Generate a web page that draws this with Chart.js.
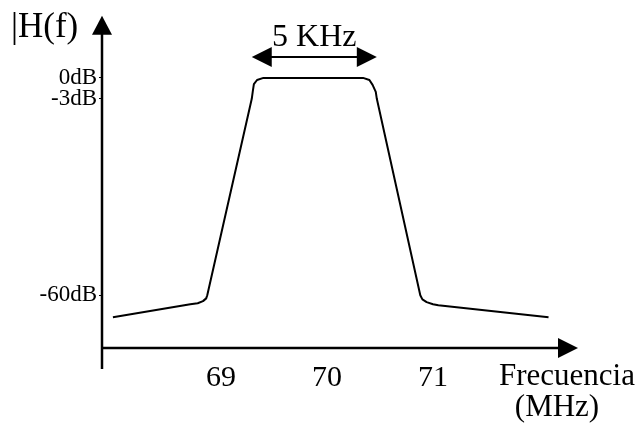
<!DOCTYPE html>
<html>
<head>
<meta charset="utf-8">
<script src="https://cdn.jsdelivr.net/npm/chart.js@4/dist/chart.umd.min.js"></script>
<style>
  html, body { margin: 0; padding: 0; background: #fff; }
  #wrap { width: 641px; height: 430px; position: relative; }
</style>
</head>
<body>
<div id="wrap"><canvas id="filterChart"></canvas></div>
<script>
// frequency response points (MHz, dB)
const freqMHz = [67.98, 68.71, 68.78, 68.83, 68.86, 68.87, 69.29, 69.30, 69.31, 69.34, 69.40,
                 70.34, 70.40, 70.43, 70.46, 70.47, 70.88, 70.90, 70.94, 71.00, 71.05, 72.09];
const gainDb  = [-66.4, -62.6, -62.3, -61.7, -60.9, -60.0, -3.0, -1.9, -0.9, -0.3, 0.0,
                 0.0, -0.3, -1.0, -2.0, -3.0, -60.0, -61.2, -62.0, -62.6, -62.9, -66.4];
const xTicks = [69, 70, 71];
const yTicks = [0, -3, -60];
const bandwidthLabel = '5 KHz';

const SERIF = "'Liberation Serif', 'Times New Roman', serif";

// y axis of the sketch is not to scale: the -3..-60 dB stretch is compressed
class SchematicDbScale extends Chart.LinearScale {
    static id = 'schematicDb';
    static defaults = {};
    warp(v) {
        return v >= -3 ? v : -3 + (v + 3) * 0.494;
    }
    getPixelForValue(v) {
        const lo = this.warp(this.min), hi = this.warp(this.max);
        return this.getPixelForDecimal((this.warp(v) - lo) / (hi - lo));
    }
    getValueForPixel(p) {
        const lo = this.warp(this.min), hi = this.warp(this.max);
        const w = lo + this.getDecimalForPixel(p) * (hi - lo);
        return w >= -3 ? w : -3 + (w + 3) / 0.494;
    }
}
Chart.register(SchematicDbScale);

const sketchAxes = {
    id: 'sketchAxes',
    afterDraw(chart) {
        const ctx = chart.ctx;
        const a = chart.chartArea;
        const xs = chart.scales.x, ys = chart.scales.y;
        ctx.save();
        ctx.strokeStyle = '#000';
        ctx.fillStyle = '#000';
        ctx.lineWidth = 2.5;

        // vertical axis with arrow
        ctx.beginPath();
        ctx.moveTo(a.left, a.bottom + 21);
        ctx.lineTo(a.left, a.top + 18);
        ctx.stroke();
        ctx.beginPath();
        ctx.moveTo(a.left, a.top);
        ctx.lineTo(a.left - 10, a.top + 19);
        ctx.lineTo(a.left + 10, a.top + 19);
        ctx.closePath();
        ctx.fill();

        // horizontal axis with arrow
        ctx.beginPath();
        ctx.moveTo(a.left, a.bottom);
        ctx.lineTo(a.right - 18, a.bottom);
        ctx.stroke();
        ctx.beginPath();
        ctx.moveTo(a.right, a.bottom);
        ctx.lineTo(a.right - 20, a.bottom - 10);
        ctx.lineTo(a.right - 20, a.bottom + 10);
        ctx.closePath();
        ctx.fill();

        // -3 dB bandwidth arrow
        const i1 = gainDb.indexOf(-3), i2 = gainDb.lastIndexOf(-3);
        const x1 = xs.getPixelForValue(freqMHz[i1]);
        const x2 = xs.getPixelForValue(freqMHz[i2]);
        const yb = ys.getPixelForValue(3);
        ctx.lineWidth = 2;
        ctx.beginPath();
        ctx.moveTo(x1 + 18, yb);
        ctx.lineTo(x2 - 18, yb);
        ctx.stroke();
        ctx.beginPath();
        ctx.moveTo(x1, yb);
        ctx.lineTo(x1 + 20, yb - 10);
        ctx.lineTo(x1 + 20, yb + 10);
        ctx.closePath();
        ctx.fill();
        ctx.beginPath();
        ctx.moveTo(x2, yb);
        ctx.lineTo(x2 - 20, yb - 10);
        ctx.lineTo(x2 - 20, yb + 10);
        ctx.closePath();
        ctx.fill();

        // texts
        ctx.textBaseline = 'alphabetic';
        ctx.font = '32px ' + SERIF;
        ctx.textAlign = 'center';
        ctx.fillText(bandwidthLabel, (x1 + x2) / 2, yb - 11);
        ctx.font = '35px ' + SERIF;
        ctx.textAlign = 'left';
        ctx.fillText('|H(f)', 11, 37);
        ctx.font = '31px ' + SERIF;
        ctx.textAlign = 'center';
        ctx.fillText('Frecuencia', 567, 385);
        ctx.fillText('(MHz)', 557, 416);
        ctx.restore();
    }
};

new Chart(document.getElementById('filterChart').getContext('2d'), {
    type: 'line',
    data: {
        labels: freqMHz,
        datasets: [{
            data: freqMHz.map((f, i) => ({ x: f, y: gainDb[i] })),
            borderColor: '#000',
            borderWidth: 2,
            borderJoinStyle: 'round',
            pointRadius: 0,
            tension: 0,
            fill: false
        }]
    },
    options: {
        responsive: true,
        maintainAspectRatio: false,
        animation: false,
        events: [],
        layout: { padding: { top: 15, right: 63, left: 0, bottom: 0 } },
        plugins: {
            legend: { display: false },
            tooltip: { enabled: false }
        },
        scales: {
            x: {
                type: 'linear',
                min: 67.877,
                max: 72.368,
                afterBuildTicks: s => { s.ticks = xTicks.map(v => ({ value: v })); },
                afterFit: s => { s.height = 82; },
                border: { display: false },
                grid: { display: false, drawTicks: false },
                ticks: {
                    color: '#000',
                    padding: 12,
                    font: { family: SERIF, size: 30 },
                    callback: v => String(v)
                }
            },
            y: {
                type: 'schematicDb',
                min: -75.3,
                max: 8.9,
                afterBuildTicks: s => { s.ticks = yTicks.map(v => ({ value: v })); },
                afterFit: s => { s.width = 102; },
                border: { display: false },
                grid: { display: true, drawOnChartArea: false, drawTicks: true, tickLength: 3, color: '#000', lineWidth: 1 },
                ticks: {
                    color: '#000',
                    padding: 2,
                    font: { family: SERIF, size: 23 },
                    callback: v => v + 'dB'
                }
            }
        }
    },
    plugins: [sketchAxes]
});
</script>
</body>
</html>
